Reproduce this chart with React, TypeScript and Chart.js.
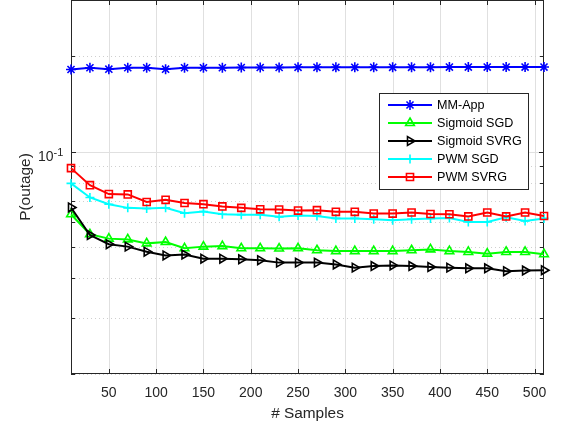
import React, { useEffect, useRef } from 'react';
import { Chart, registerables } from 'chart.js';
import { drawPoint } from 'chart.js/helpers';

Chart.register(...registerables);

// ---- data ----
const samples = [10, 30, 50, 70, 90, 110, 130, 150, 170, 190, 210, 230, 250, 270, 290, 310, 330, 350, 370, 390, 410, 430, 450, 470, 490, 510];
const mmApp = [0.1814, 0.1837, 0.1818, 0.1837, 0.1837, 0.1818, 0.1837, 0.1837, 0.1837, 0.184, 0.184, 0.184, 0.1843, 0.1843, 0.1843, 0.1843, 0.1843, 0.1843, 0.1843, 0.1843, 0.1846, 0.1846, 0.1846, 0.1846, 0.1846, 0.1846];
const sigmoidSGD = [0.0636, 0.055, 0.0533, 0.053, 0.0515, 0.052, 0.0497, 0.0503, 0.0505, 0.0497, 0.0497, 0.0496, 0.0497, 0.049, 0.0487, 0.0487, 0.0487, 0.0487, 0.049, 0.0493, 0.0487, 0.0484, 0.0478, 0.0484, 0.0484, 0.0476];
const sigmoidSVRG = [0.0668, 0.0547, 0.0512, 0.0503, 0.0485, 0.0472, 0.0475, 0.0461, 0.0461, 0.0459, 0.0456, 0.0448, 0.0448, 0.0448, 0.0442, 0.0432, 0.0437, 0.0439, 0.0437, 0.0434, 0.0432, 0.043, 0.043, 0.0421, 0.0423, 0.0424];
const pwmSGD = [0.0795, 0.0718, 0.0684, 0.0666, 0.0663, 0.0666, 0.0641, 0.0649, 0.0636, 0.0634, 0.0634, 0.0624, 0.063, 0.0628, 0.0617, 0.0617, 0.0613, 0.0609, 0.0613, 0.0617, 0.0619, 0.0601, 0.0601, 0.0622, 0.0606, 0.0617];
const pwmSVRG = [0.0888, 0.0785, 0.0736, 0.0734, 0.0695, 0.0706, 0.069, 0.0684, 0.0673, 0.0666, 0.0659, 0.0658, 0.0653, 0.0655, 0.0647, 0.0647, 0.0639, 0.0639, 0.0644, 0.0637, 0.0636, 0.0626, 0.0644, 0.0626, 0.0644, 0.0628];

const seriesNames = ['MM-App', 'Sigmoid SGD', 'Sigmoid SVRG', 'PWM SGD', 'PWM SVRG'];
const seriesValues = [mmApp, sigmoidSGD, sigmoidSVRG, pwmSGD, pwmSVRG];
const seriesColors = ['#0000ff', '#00ff00', '#000000', '#00ffff', '#ff0000'];
const seriesMarkers = ['star', 'triangle', 'triangle', 'cross', 'rect'];
const seriesMarkerRotation = [0, 0, 90, 0, 0];
const seriesMarkerRadius = [5, 5, 5, 4.5, 5];

const xTicks = [50, 100, 150, 200, 250, 300, 350, 400, 450, 500];
const yMajor = [0.1];
const yMinor = [0.02, 0.03, 0.04, 0.05, 0.06, 0.07, 0.08, 0.09, 0.2];
const yTickBase = '10';
const yTickExp = '-1';

const FONT = '"Liberation Sans", Arial, Helvetica, sans-serif';
const AXIS = '#262626';

const overlay = {
  id: 'matlabFrame',
  beforeDatasetsDraw(chart: any) {
    const { ctx, chartArea, scales } = chart;
    const { left, right, top, bottom } = chartArea;
    const x = scales.x, y = scales.y;
    ctx.save();
    ctx.lineWidth = 1;
    // major grid
    ctx.strokeStyle = '#e0e0e0';
    ctx.setLineDash([]);
    for (const v of xTicks) {
      const px = Math.round(x.getPixelForValue(v)) + 0.5;
      ctx.beginPath(); ctx.moveTo(px, top); ctx.lineTo(px, bottom); ctx.stroke();
    }
    for (const v of yMajor) {
      const py = Math.round(y.getPixelForValue(v)) + 0.5;
      ctx.beginPath(); ctx.moveTo(left, py); ctx.lineTo(right, py); ctx.stroke();
    }
    // minor grid
    ctx.strokeStyle = '#cfcfcf';
    ctx.setLineDash([1, 3]);
    for (const v of yMinor) {
      const py = Math.round(y.getPixelForValue(v)) + 0.5;
      ctx.beginPath(); ctx.moveTo(left, py); ctx.lineTo(right, py); ctx.stroke();
    }
    ctx.setLineDash([]);
    // frame
    ctx.strokeStyle = AXIS;
    ctx.lineWidth = 1;
    ctx.strokeRect(Math.round(left) + 0.5, Math.round(top) + 0.5, Math.round(right - left) - 1, Math.round(bottom - top) - 1);
    // ticks
    const tl = 5;
    for (const v of xTicks) {
      const px = Math.round(x.getPixelForValue(v)) + 0.5;
      ctx.beginPath();
      ctx.moveTo(px, bottom); ctx.lineTo(px, bottom - tl);
      ctx.moveTo(px, top); ctx.lineTo(px, top + tl);
      ctx.stroke();
    }
    for (const v of [...yMajor, ...yMinor]) {
      const py = Math.round(y.getPixelForValue(v)) + 0.5;
      const len = yMajor.includes(v) ? tl : 4;
      ctx.beginPath();
      ctx.moveTo(left, py); ctx.lineTo(left + len, py);
      ctx.moveTo(right, py); ctx.lineTo(right - len, py);
      ctx.stroke();
    }
    // y tick label 10^-1
    const py = y.getPixelForValue(0.1);
    ctx.fillStyle = AXIS;
    ctx.textBaseline = 'alphabetic';
    ctx.font = `14px ${FONT}`;
    ctx.textAlign = 'right';
    ctx.fillText(yTickBase, 53.5, py + 9.5);
    ctx.font = `11px ${FONT}`;
    ctx.textAlign = 'left';
    ctx.fillText(yTickExp, 53.5, py + 4);
    ctx.restore();
  },
  afterDatasetsDraw(chart: any) {
    const { ctx } = chart;
    ctx.save();
    const bx = 379.5, by = 93.5, bw = 149, bh = 96;
    ctx.fillStyle = '#ffffff';
    ctx.fillRect(bx, by, bw, bh);
    ctx.strokeStyle = '#262626';
    ctx.lineWidth = 1;
    ctx.strokeRect(bx, by, bw, bh);
    ctx.font = `12.6px ${FONT}`;
    ctx.textBaseline = 'middle';
    ctx.textAlign = 'left';
    seriesNames.forEach((name, i) => {
      const ry = 105 + i * 18;
      ctx.strokeStyle = seriesColors[i];
      ctx.lineWidth = 2;
      ctx.beginPath(); ctx.moveTo(388, ry); ctx.lineTo(432, ry); ctx.stroke();
      ctx.lineWidth = 1.6;
      ctx.fillStyle = 'rgba(0,0,0,0)';
      drawPoint(ctx, {
        pointStyle: seriesMarkers[i],
        radius: seriesMarkerRadius[i],
        rotation: seriesMarkerRotation[i],
        borderWidth: 1.6,
      } as any, 410, ry);
      ctx.fillStyle = '#000000';
      ctx.fillText(name, 437, ry + 0.5);
    });
    ctx.restore();
  },
};

export default function App() {
  const ref = useRef<HTMLCanvasElement | null>(null);
  useEffect(() => {
    if (!ref.current) return;
    const datasets = seriesNames.map((name, i) => ({
      label: name,
      data: samples.map((s, j) => ({ x: s, y: seriesValues[i][j] })),
      borderColor: seriesColors[i],
      backgroundColor: 'rgba(0,0,0,0)',
      borderWidth: 2,
      pointStyle: seriesMarkers[i] as any,
      pointRotation: seriesMarkerRotation[i],
      pointRadius: seriesMarkerRadius[i],
      pointBorderWidth: 1.6,
      pointBorderColor: seriesColors[i],
      pointBackgroundColor: 'rgba(0,0,0,0)',
      tension: 0,
      clip: false as any,
      order: seriesNames.length - i,
    }));
    const chart = new Chart(ref.current, {
      type: 'line',
      data: { datasets },
      options: {
        animation: false,
        responsive: false,
        devicePixelRatio: 1,
        layout: { autoPadding: false, padding: { top: 0, right: 18, bottom: 0, left: 0 } },
        plugins: { legend: { display: false }, tooltip: { enabled: false } },
        scales: {
          x: {
            type: 'linear',
            min: 10,
            max: 510,
            afterBuildTicks: (s: any) => { s.ticks = xTicks.map((v) => ({ value: v })); },
            afterFit: (s: any) => { s.height = 53; },
            grid: { display: false, drawTicks: false },
            border: { display: false },
            ticks: { color: AXIS, font: { family: FONT, size: 14 }, padding: 11, maxRotation: 0, autoSkip: false },
            title: { display: true, text: '# Samples', color: AXIS, font: { family: FONT, size: 15.4 }, padding: { top: 0, bottom: 4 } },
          },
          y: {
            type: 'logarithmic',
            min: 0.02,
            max: 0.3,
            afterFit: (s: any) => { s.width = 71; },
            grid: { display: false, drawTicks: false },
            border: { display: false },
            ticks: { display: false },
            title: { display: true, text: 'P(outage)', color: AXIS, font: { family: FONT, size: 15.4 }, padding: { top: 17, bottom: 0 } },
          },
        },
      },
      plugins: [overlay],
    });
    return () => chart.destroy();
  }, []);
  return (
    <div style={{ position: 'absolute', left: 0, top: 0, width: 562, height: 427, background: '#fff' }}>
      <canvas ref={ref} width={562} height={427} style={{ display: 'block' }} />
    </div>
  );
}
